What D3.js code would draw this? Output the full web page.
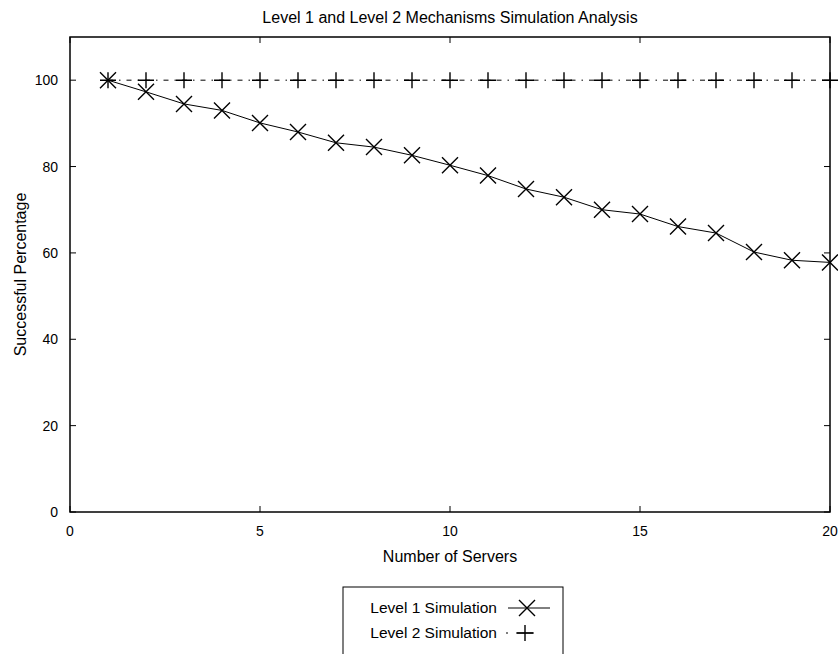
<!DOCTYPE html>
<html>
<head>
<meta charset="utf-8">
<script src="https://cdn.jsdelivr.net/npm/d3@7"></script>
<style>
  body { margin: 0; background: #fff; }
  text { font-family: "Liberation Sans", Arial, sans-serif; fill: #000; }
</style>
</head>
<body>
<div id="chart"></div>
<script>
// data
var servers = [1, 2, 3, 4, 5, 6, 7, 8, 9, 10, 11, 12, 13, 14, 15, 16, 17, 18, 19, 20];
var level1 = [100, 97.3, 94.5, 93.0, 90.1, 88.0, 85.5, 84.5, 82.6, 80.3,
              77.9, 74.8, 72.9, 70.0, 69.0, 66.1, 64.6, 60.2, 58.3, 57.8];
var level2 = [100, 100, 100, 100, 100, 100, 100, 100, 100, 100,
              100, 100, 100, 100, 100, 100, 100, 100, 100, 100];
var xTicks = [0, 5, 10, 15, 20];
var yTicks = [0, 20, 40, 60, 80, 100];

var W = 838, H = 654;
var margin = {top: 37, right: 8, bottom: 142, left: 70},
  width = W - margin.left - margin.right,
  height = H - margin.top - margin.bottom;

var svg = d3.select("#chart")
  .append("svg")
    .attr("width", W)
    .attr("height", H);

var g = svg.append("g")
    .attr("transform", "translate(" + margin.left + "," + margin.top + ")");

var x = d3.scaleLinear().domain([0, 20]).range([0, width]);
var y = d3.scaleLinear().domain([0, 110]).range([height, 0]);

// ticks drawn inside the frame on all four sides
var tl = 6;
g.selectAll(".xt").data(xTicks).enter().append("line")
  .attr("x1", d => x(d)).attr("x2", d => x(d))
  .attr("y1", height).attr("y2", height - tl)
  .attr("stroke", "#000");
g.selectAll(".xt2").data(xTicks).enter().append("line")
  .attr("x1", d => x(d)).attr("x2", d => x(d))
  .attr("y1", 0).attr("y2", tl)
  .attr("stroke", "#000");
g.selectAll(".yt").data(yTicks).enter().append("line")
  .attr("x1", 0).attr("x2", tl)
  .attr("y1", d => y(d)).attr("y2", d => y(d))
  .attr("stroke", "#000");
g.selectAll(".yt2").data(yTicks).enter().append("line")
  .attr("x1", width).attr("x2", width - tl)
  .attr("y1", d => y(d)).attr("y2", d => y(d))
  .attr("stroke", "#000");

// frame
g.append("rect")
  .attr("width", width).attr("height", height)
  .attr("fill", "none").attr("stroke", "#000").attr("stroke-width", 1.5);

// tick labels
g.selectAll(".xl").data(xTicks).enter().append("text")
  .attr("x", d => x(d)).attr("y", height + 24)
  .attr("text-anchor", "middle")
  .style("font-size", "14px")
  .text(d => d);
g.selectAll(".yl").data(yTicks).enter().append("text")
  .attr("x", -12).attr("y", d => y(d) + 5)
  .attr("text-anchor", "end")
  .style("font-size", "14px")
  .text(d => d);

// titles
svg.append("text")
  .attr("x", margin.left + width / 2).attr("y", 23)
  .attr("text-anchor", "middle")
  .style("font-size", "16px")
  .text("Level 1 and Level 2 Mechanisms Simulation Analysis");
svg.append("text")
  .attr("x", margin.left + width / 2).attr("y", 562)
  .attr("text-anchor", "middle")
  .style("font-size", "16px")
  .text("Number of Servers");
svg.append("text")
  .attr("transform", "translate(26," + (margin.top + height / 2) + ") rotate(-90)")
  .attr("text-anchor", "middle")
  .style("font-size", "16px")
  .text("Successful Percentage");

var dash2 = "5,6,1.5,6";
var line = d3.line().x(d => x(d[0])).y(d => y(d[1]));
var s1 = servers.map((s, i) => [s, level1[i]]);
var s2 = servers.map((s, i) => [s, level2[i]]);

g.append("path").datum(s2)
  .attr("d", line).attr("fill", "none")
  .attr("stroke", "#000").attr("stroke-width", 1)
  .attr("stroke-dasharray", dash2);
g.append("path").datum(s1)
  .attr("d", line).attr("fill", "none")
  .attr("stroke", "#000").attr("stroke-width", 1);

var m = 8;
function cross(sel) {
  sel.attr("d", "M" + (-m) + "," + (-m) + "L" + m + "," + m + "M" + (-m) + "," + m + "L" + m + "," + (-m))
    .attr("stroke", "#000").attr("stroke-width", 1.4).attr("fill", "none");
}
function plus(sel) {
  sel.attr("d", "M" + (-m) + ",0L" + m + ",0M0," + (-m) + "L0," + m)
    .attr("stroke", "#000").attr("stroke-width", 1.4).attr("fill", "none");
}

g.selectAll(".p2").data(s2).enter().append("path")
  .attr("transform", d => "translate(" + x(d[0]) + "," + y(d[1]) + ")")
  .call(plus);
g.selectAll(".p1").data(s1).enter().append("path")
  .attr("transform", d => "translate(" + x(d[0]) + "," + y(d[1]) + ")")
  .call(cross);

// legend
var lg = svg.append("g");
lg.append("rect")
  .attr("x", 343).attr("y", 587).attr("width", 220).attr("height", 80)
  .attr("fill", "none").attr("stroke", "#000").attr("stroke-width", 1);
var legendNames = ["Level 1 Simulation", "Level 2 Simulation"];
var legendY = [608, 633];
lg.selectAll(".lt").data(legendNames).enter().append("text")
  .attr("x", 497).attr("y", (d, i) => legendY[i] + 5)
  .attr("text-anchor", "end")
  .style("font-size", "15.5px")
  .text(d => d);
lg.append("line")
  .attr("x1", 508).attr("x2", 550).attr("y1", legendY[0]).attr("y2", legendY[0])
  .attr("stroke", "#000");
lg.append("path")
  .attr("transform", "translate(527," + legendY[0] + ")")
  .call(cross);
lg.append("line")
  .attr("x1", 506).attr("x2", 534).attr("y1", legendY[1]).attr("y2", legendY[1])
  .attr("stroke", "#000").attr("stroke-dasharray", "2,8,20");
lg.append("path")
  .attr("transform", "translate(525," + legendY[1] + ")")
  .call(plus);
</script>
</body>
</html>
